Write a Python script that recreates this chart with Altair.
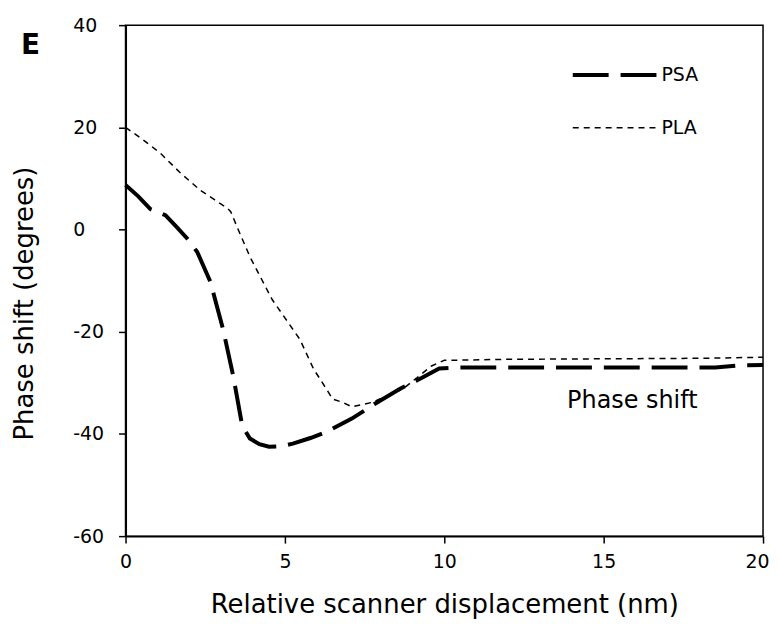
import altair as alt
import pandas as pd

# ---- data ----
series = ["PSA", "PLA"]

psa_x = [0, 0.4, 0.78, 1.25, 1.6, 1.94, 2.25, 2.66, 3.06, 3.38, 3.66, 3.9, 4.2, 4.5,
         4.9, 5.25, 5.8, 6.3, 7.1, 7.8, 8.6, 9.3, 9.84, 10.5, 12, 14, 16, 17.5, 18.5, 19.2, 20]
psa_y = [8.7, 6.5, 4.0, 2.8, 0.5, -1.8, -4.4, -10.2, -19.5, -28.7, -38.4, -40.9, -42.0, -42.5,
         -42.4, -41.9, -40.8, -39.6, -37.0, -34.2, -31.2, -29.0, -27.2, -27.0, -27.0, -27.0,
         -27.0, -27.0, -27.0, -26.6, -26.5]

pla_x = [0, 0.5, 1.1, 1.7, 2.34, 2.8, 3.19, 3.3, 3.5, 3.9, 4.6, 5.47, 5.9, 6.3, 6.5, 6.8,
         7.1, 7.75, 8.7, 9.6, 10, 12, 15, 18, 20]
pla_y = [20, 17.8, 14.9, 11.2, 7.7, 5.8, 4.2, 3.5, 0.5, -5.3, -13.7, -21.5, -27.3, -31.2,
         -33.2, -33.8, -34.7, -33.8, -31.2, -26.7, -25.6, -25.4, -25.3, -25.2, -25.0]

x_ticks = [0, 5, 10, 15, 20]
y_ticks = [-60, -40, -20, 0, 20, 40]

ann_x = [15.9]
ann_y = [-33.5]
ann_text = ["Phase shift"]

panel_label = "E"

FONT = "DejaVu Sans"

rows = []
for i, (x, y) in enumerate(zip(psa_x, psa_y)):
    rows.append({"x": x, "y": y, "series": "PSA", "order": i})
for i, (x, y) in enumerate(zip(pla_x, pla_y)):
    rows.append({"x": x, "y": y, "series": "PLA", "order": i})
df = pd.DataFrame(rows)

legend = alt.Legend(
    title=None,
    orient="none",
    legendX=447,
    legendY=6,
    symbolType="stroke",
    symbolSize=7056,
    symbolStrokeColor="black",
    labelFont=FONT,
    labelFontSize=19,
    labelColor="black",
    labelOffset=3,
    rowPadding=-48,
    padding=0,
)

last_x = x_ticks[-1]
xs = alt.X("x:Q", scale=alt.Scale(domain=[0, 20], nice=False),
           axis=alt.Axis(values=x_ticks, title="Relative scanner displacement (nm)",
                         labelExpr="toString(datum.value)", labelPadding=10,
                         labelAlign={"condition": {"test": f"datum.value == {last_x}", "value": "right"},
                                     "value": "center"},
                         labelOffset={"condition": {"test": f"datum.value == {last_x}", "value": 6},
                                      "value": 0},
                         titleY=56, titleBaseline="top"))
ys = alt.Y("y:Q", scale=alt.Scale(domain=[-60, 40], nice=False),
           axis=alt.Axis(values=y_ticks, title="Phase shift (degrees)",
                         labelExpr="toString(datum.value)", labelAlign="left",
                         labelPadding=46, titleX=-88, titleY=279,
                         titleAlign="center", titleBaseline="bottom", titleAngle=270))

lines = alt.Chart(df).mark_line(color="black", strokeCap="butt").encode(
    x=xs,
    y=ys,
    strokeDash=alt.StrokeDash("series:N", scale=alt.Scale(domain=series, range=[[36, 12], [6, 5]]),
                              legend=legend),
    strokeWidth=alt.StrokeWidth("series:N", scale=alt.Scale(domain=series, range=[4, 1.5]),
                                legend=legend),
    order="order:Q",
)

ann_df = pd.DataFrame({"x": ann_x, "y": ann_y, "t": ann_text})
ann = alt.Chart(ann_df).mark_text(font=FONT, fontSize=24, color="black",
                                  align="center", baseline="middle").encode(
    x="x:Q", y="y:Q", text="t:N")

lab_df = pd.DataFrame({"t": [panel_label]})
lab = alt.Chart(lab_df).mark_text(font=FONT, fontSize=28, fontWeight="bold", color="black",
                                  align="left", baseline="middle").encode(
    x=alt.value(-105), y=alt.value(21), text="t:N")

chart = alt.layer(lines, ann, lab).properties(
    width=640, height=513, padding={"left": 4, "top": 7, "right": 0, "bottom": 0}
).configure_view(stroke="black", strokeWidth=1.5).configure_axis(
    grid=False,
    domainColor="black",
    domainWidth=2,
    tickColor="black",
    tickWidth=1.5,
    tickSize=7,
    labelFont=FONT,
    labelFontSize=19,
    labelColor="black",
    titleFont=FONT,
    titleFontSize=26,
    titleFontWeight="normal",
    titleColor="black",
)

chart.save("out.html", embed_options={"renderer": "svg", "actions": False})
